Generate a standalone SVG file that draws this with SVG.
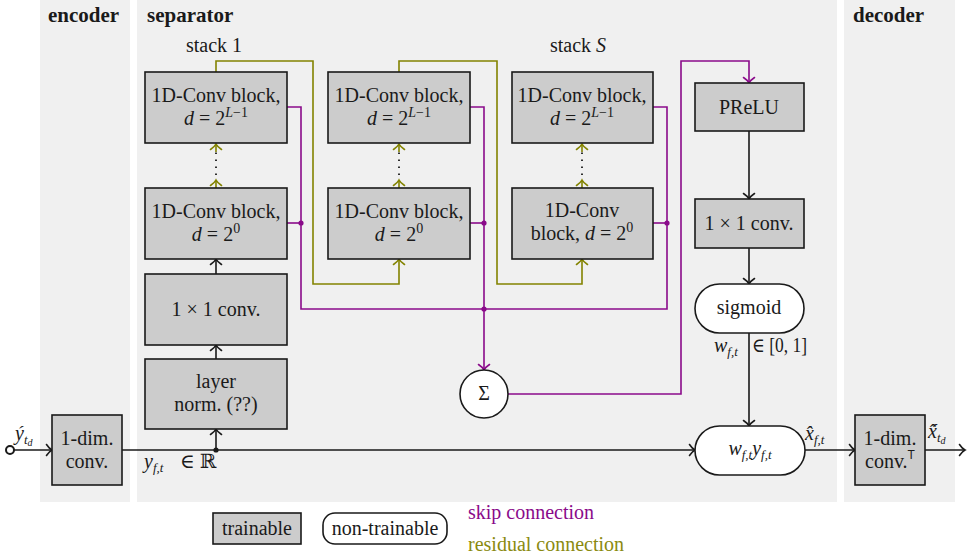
<svg xmlns="http://www.w3.org/2000/svg" width="973" height="559" viewBox="0 0 973 559">
  <defs>
    <style>
      text { font-family: "Liberation Serif", "DejaVu Serif", serif; font-size: 20px; fill: #1a1a1a; }
      .c { text-anchor: middle; }
      .title { font-weight: bold; font-size: 21px; }
      .i { font-style: italic; }
      .panel { fill: #f0f0f0; stroke: none; }
      .box { fill: #cccccc; stroke: #1a1a1a; stroke-width: 1.6; }
      .rnd { fill: #ffffff; stroke: #1a1a1a; stroke-width: 1.6; }
      .k { fill: none; stroke: #1a1a1a; stroke-width: 1.6; marker-end: url(#ak); }
      .skip { fill: none; stroke: #8a0a8a; stroke-width: 1.6; }
      .skipa { fill: none; stroke: #8a0a8a; stroke-width: 1.6; marker-end: url(#ap); }
      .res { fill: none; stroke: #838300; stroke-width: 1.6; marker-end: url(#ao); }
      .dots { fill: none; stroke: #1a1a1a; stroke-width: 1.8; stroke-dasharray: 1.6 5.4; }
      .jp { fill: #8a0a8a; }
    </style>
    <marker id="ak" markerUnits="userSpaceOnUse" viewBox="-7 -7 9 14" refX="0" refY="0" markerWidth="9" markerHeight="14" orient="auto">
      <path d="M -5.5,-5.5 C -3.5,-2.5 -1.2,-0.6 0,0 C -1.2,0.6 -3.5,2.5 -5.5,5.5" fill="none" stroke="#1a1a1a" stroke-width="1.6" stroke-linecap="round"/>
    </marker>
    <marker id="ap" markerUnits="userSpaceOnUse" viewBox="-7 -7 9 14" refX="0" refY="0" markerWidth="9" markerHeight="14" orient="auto">
      <path d="M -5.5,-5.5 C -3.5,-2.5 -1.2,-0.6 0,0 C -1.2,0.6 -3.5,2.5 -5.5,5.5" fill="none" stroke="#8a0a8a" stroke-width="1.6" stroke-linecap="round"/>
    </marker>
    <marker id="ao" markerUnits="userSpaceOnUse" viewBox="-7 -7 9 14" refX="0" refY="0" markerWidth="9" markerHeight="14" orient="auto">
      <path d="M -5.5,-5.5 C -3.5,-2.5 -1.2,-0.6 0,0 C -1.2,0.6 -3.5,2.5 -5.5,5.5" fill="none" stroke="#838300" stroke-width="1.6" stroke-linecap="round"/>
    </marker>
  </defs>

  <rect width="973" height="559" fill="#ffffff"/>

  <!-- stage panels -->
  <g id="panels">
    <rect class="panel" x="40" y="0" width="90" height="502"/>
    <rect class="panel" x="137" y="0" width="700" height="502"/>
    <rect class="panel" x="844" y="0" width="111" height="502"/>
    <text class="title" x="48" y="22">encoder</text>
    <text class="title" x="147" y="22">separator</text>
    <text class="title" x="853" y="22">decoder</text>
    <text x="186" y="52" font-size="21">stack 1</text>
    <text x="550" y="52" font-size="21">stack <tspan class="i">S</tspan></text>
  </g>

  <!-- connectors -->
  <g id="connectors">
    <!-- main signal path -->
    <circle cx="10" cy="450" r="4" fill="none" stroke="#1a1a1a" stroke-width="2"/>
    <path class="k" d="M 14,450 H 52"/>
    <path class="k" d="M 122,450 H 695"/>
    <circle cx="216" cy="450" r="2.6" fill="#1a1a1a"/>
    <path class="k" d="M 216,450 V 429"/>
    <path class="k" d="M 216,359 V 345"/>
    <path class="k" d="M 216,274 V 259"/>
    <path class="k" d="M 749,131 V 199"/>
    <path class="k" d="M 749,248 V 284"/>
    <path class="k" d="M 749,333 V 426"/>
    <path class="k" d="M 805,450 H 855"/>
    <path class="k" d="M 925,450 H 965"/>

    <!-- dilation chains inside each stack -->
    <path class="res" d="M 216,188 V 180"/>
    <path class="dots" d="M 216,175 V 150"/>
    <path class="res" d="M 216,152 V 144"/>
    <path class="res" d="M 399,188 V 180"/>
    <path class="dots" d="M 399,175 V 150"/>
    <path class="res" d="M 399,152 V 144"/>
    <path class="res" d="M 582,188 V 180"/>
    <path class="dots" d="M 582,175 V 150"/>
    <path class="res" d="M 582,152 V 144"/>

    <!-- residual connections between stacks -->
    <path class="res" d="M 216,72 V 61 H 313 V 284 H 399 V 259"/>
    <path class="res" d="M 399,72 V 61 H 497 V 284 H 582 V 259"/>

    <!-- skip connections -->
    <path class="skip" d="M 287,107 H 301 V 309 H 667 V 107 H 653"/>
    <path class="skip" d="M 287,223 H 301"/>
    <path class="skip" d="M 653,223 H 667"/>
    <path class="skip" d="M 470,223 H 484"/>
    <path class="skipa" d="M 470,107 H 484 V 370"/>
    <path class="skipa" d="M 508,394 H 681 V 61 H 749 V 83"/>
    <circle class="jp" cx="301" cy="223" r="2.6"/>
    <circle class="jp" cx="484" cy="223" r="2.6"/>
    <circle class="jp" cx="667" cy="223" r="2.6"/>
    <circle class="jp" cx="484" cy="309" r="2.6"/>
  </g>

  <!-- encoder -->
  <g id="enc-conv">
    <rect class="box" x="52" y="415" width="70" height="70"/>
    <text class="c" x="87" y="445">1-dim.</text>
    <text class="c" x="87" y="468">conv.</text>
  </g>

  <!-- separator front end -->
  <g id="layer-norm">
    <rect class="box" x="145" y="359" width="142" height="70"/>
    <text class="c" x="216" y="388">layer</text>
    <text class="c" x="216" y="411">norm. (??)</text>
  </g>
  <g id="bottleneck">
    <rect class="box" x="145" y="274" width="142" height="71"/>
    <text class="c" x="216" y="316">1 × 1 conv.</text>
  </g>

  <!-- stack 1 -->
  <g id="s1-b0">
    <rect class="box" x="145" y="188" width="142" height="71"/>
    <text class="c" x="216" y="218">1D-Conv block,</text>
    <text class="c" x="216" y="241"><tspan class="i">d</tspan> = 2<tspan font-size="14" dy="-8">0</tspan></text>
  </g>
  <g id="s1-bL">
    <rect class="box" x="145" y="72" width="142" height="71"/>
    <text class="c" x="216" y="102">1D-Conv block,</text>
    <text class="c" x="216" y="125"><tspan class="i">d</tspan> = 2<tspan font-size="14" dy="-8"><tspan class="i">L</tspan>−1</tspan></text>
  </g>

  <!-- stack 2 -->
  <g id="s2-b0">
    <rect class="box" x="328" y="188" width="142" height="71"/>
    <text class="c" x="399" y="218">1D-Conv block,</text>
    <text class="c" x="399" y="241"><tspan class="i">d</tspan> = 2<tspan font-size="14" dy="-8">0</tspan></text>
  </g>
  <g id="s2-bL">
    <rect class="box" x="328" y="72" width="142" height="71"/>
    <text class="c" x="399" y="102">1D-Conv block,</text>
    <text class="c" x="399" y="125"><tspan class="i">d</tspan> = 2<tspan font-size="14" dy="-8"><tspan class="i">L</tspan>−1</tspan></text>
  </g>

  <!-- stack S -->
  <g id="sS-b0">
    <rect class="box" x="512" y="188" width="141" height="71"/>
    <text class="c" x="582" y="217">1D-Conv</text>
    <text class="c" x="582" y="240">block, <tspan class="i">d</tspan> = 2<tspan font-size="14" dy="-8">0</tspan></text>
  </g>
  <g id="sS-bL">
    <rect class="box" x="512" y="72" width="141" height="71"/>
    <text class="c" x="582" y="102">1D-Conv block,</text>
    <text class="c" x="582" y="125"><tspan class="i">d</tspan> = 2<tspan font-size="14" dy="-8"><tspan class="i">L</tspan>−1</tspan></text>
  </g>

  <!-- skip sum -->
  <g id="sum">
    <circle class="rnd" cx="484" cy="394" r="24"/>
    <text class="c" x="484" y="400" font-size="17">Σ</text>
  </g>

  <!-- mask estimation -->
  <g id="prelu">
    <rect class="box" x="695" y="83" width="109" height="48"/>
    <text class="c" x="749" y="114">PReLU</text>
  </g>
  <g id="mask-conv">
    <rect class="box" x="695" y="199" width="109" height="49"/>
    <text class="c" x="749" y="230">1 × 1 conv.</text>
  </g>
  <g id="sigmoid">
    <rect class="rnd" x="695" y="284" width="109" height="49" rx="24.5"/>
    <text class="c" x="749" y="314">sigmoid</text>
  </g>
  <g id="masking">
    <rect class="rnd" x="695" y="426" width="110" height="49" rx="24.5"/>
    <text class="c" x="750" y="455" font-size="18"><tspan class="i">w</tspan><tspan class="i" font-size="13" dy="4">f,t</tspan><tspan class="i" dy="-4">y</tspan><tspan class="i" font-size="13" dy="4">f,t</tspan></text>
  </g>

  <!-- decoder -->
  <g id="dec-conv">
    <rect class="box" x="855" y="415" width="70" height="70"/>
    <text class="c" x="890" y="445">1-dim.</text>
    <text class="c" x="890" y="468">conv.<tspan font-family="Liberation Sans, sans-serif" font-size="12" dy="-9">T</tspan></text>
  </g>

  <!-- signal labels -->
  <g id="signal-labels">
    <text x="15" y="440" font-size="18"><tspan class="i">ý</tspan><tspan class="i" font-size="13" dy="4">t</tspan><tspan class="i" font-size="10" dy="2">d</tspan></text>
    <text x="144" y="468" font-size="18"><tspan class="i">y</tspan><tspan class="i" font-size="13" dy="4">f,t</tspan><tspan x="180" dy="-4">∈ ℝ</tspan></text>
    <text x="714" y="352" font-size="18"><tspan class="i">w</tspan><tspan class="i" font-size="13" dy="4">f,t</tspan></text>
    <text x="752" y="352" font-size="18" textLength="55" lengthAdjust="spacingAndGlyphs">∈ [0, 1]</text>
    <text x="805" y="440" font-size="18"><tspan class="i">x̂</tspan><tspan class="i" font-size="13" dy="4">f,t</tspan></text>
    <text x="928" y="438" font-size="18"><tspan class="i">x̂́</tspan><tspan class="i" font-size="13" dy="4">t</tspan><tspan class="i" font-size="10" dy="2">d</tspan></text>
  </g>

  <!-- legend -->
  <g id="legend">
    <rect class="box" x="213" y="513" width="88" height="31"/>
    <text class="c" x="257" y="535">trainable</text>
    <rect class="rnd" x="323" y="513" width="124" height="31" rx="12"/>
    <text class="c" x="385" y="535">non-trainable</text>
    <text x="468" y="519" style="fill:#8a0a8a">skip connection</text>
    <text x="468" y="551" style="fill:#8a8a10">residual connection</text>
  </g>
</svg>
